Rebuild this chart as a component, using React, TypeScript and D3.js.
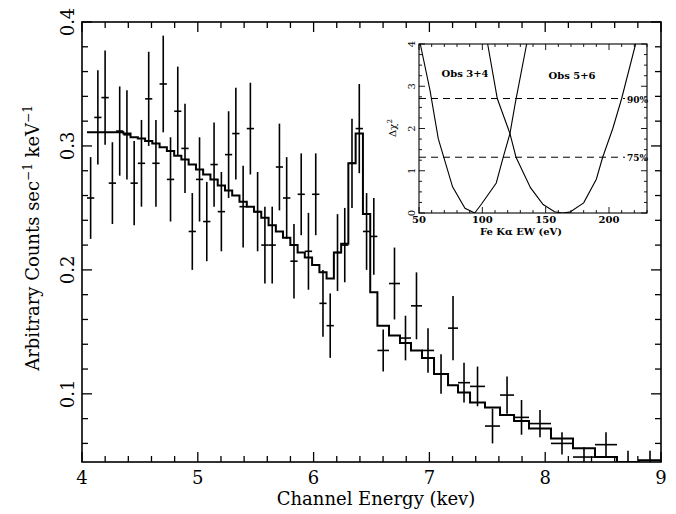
import React, { useEffect, useRef } from 'react';
import * as d3 from 'd3';

// spectrum bins (keV edges), data and model
const binEdges = [
  4.043, 4.106, 4.168, 4.231, 4.294, 4.357, 4.419, 4.482, 4.545, 4.607,
  4.670, 4.733, 4.796, 4.858, 4.921, 4.984, 5.046, 5.109, 5.172, 5.235,
  5.297, 5.360, 5.423, 5.485, 5.548, 5.611, 5.674, 5.736, 5.799, 5.862,
  5.924, 5.987, 6.050, 6.112, 6.175, 6.238, 6.300, 6.363, 6.426, 6.489,
  6.551, 6.651, 6.746, 6.841, 6.936, 7.040, 7.161, 7.247, 7.351, 7.480,
  7.610, 7.731, 7.860, 8.050, 8.240, 8.430, 8.620, 8.810, 9.000,
];
const countRate = [
  0.258, 0.323, 0.339, 0.270, 0.312, 0.309, 0.270, 0.286, 0.338, 0.286,
  0.350, 0.273, 0.328, 0.298, 0.231, 0.273, 0.239, 0.285, 0.247, 0.293,
  0.310, 0.251, 0.314, 0.247, 0.220, 0.220, 0.283, 0.258, 0.207, 0.261,
  0.215, 0.261, 0.173, 0.155, 0.214, 0.220, 0.286, 0.314, 0.231, 0.227,
  0.135, 0.189, 0.145, 0.171, 0.135, 0.116, 0.153, 0.109, 0.106, 0.074,
  0.099, 0.081, 0.076, 0.060, 0.049, 0.059, 0.043, 0.043,
];
const countErr = [
  0.033, 0.038, 0.038, 0.033, 0.036, 0.036, 0.034, 0.035, 0.038, 0.035,
  0.039, 0.034, 0.036, 0.036, 0.031, 0.034, 0.032, 0.034, 0.032, 0.035,
  0.037, 0.033, 0.037, 0.032, 0.031, 0.031, 0.035, 0.033, 0.030, 0.033,
  0.031, 0.033, 0.027, 0.026, 0.031, 0.030, 0.036, 0.036, 0.031, 0.031,
  0.017, 0.029, 0.018, 0.027, 0.018, 0.016, 0.026, 0.016, 0.016, 0.014,
  0.015, 0.014, 0.011, 0.009, 0.008, 0.010, 0.011, 0.011,
];
const modelRate = [
  0.311, 0.311, 0.311, 0.311, 0.311, 0.310, 0.307, 0.306, 0.304, 0.302,
  0.299, 0.296, 0.292, 0.289, 0.285, 0.281, 0.277, 0.273, 0.268, 0.264,
  0.260, 0.255, 0.251, 0.247, 0.242, 0.236, 0.231, 0.226, 0.220, 0.214,
  0.210, 0.204, 0.198, 0.193, 0.214, 0.221, 0.286, 0.310, 0.245, 0.182,
  0.155, 0.147, 0.141, 0.135, 0.129, 0.116, 0.107, 0.101, 0.093, 0.089,
  0.083, 0.078, 0.072, 0.064, 0.056, 0.049, 0.045, 0.0465,
];

// inset: delta chi^2 against Fe K alpha equivalent width
const ewObs34 = [51, 58.7, 65.2, 76.5, 86.3, 94, 99.5, 111, 116.5, 121.8, 126, 135];
const chiObs34 = [4.0, 2.9, 1.76, 0.62, 0.11, 0.0, 0.22, 0.71, 1.32, 1.88, 2.6, 4.0];
const ewObs56 = [104.2, 111.8, 121.8, 126.6, 138, 148, 157, 163, 169, 180, 190, 195, 203, 210, 221];
const chiObs56 = [4.0, 2.71, 1.88, 1.32, 0.6, 0.2, 0.03, 0.0, 0.02, 0.24, 0.8, 1.32, 2.0, 2.71, 4.0];
const confLevels = [2.71, 1.32];
const confLabels = ['90%', '75%'];

const xTicks = [4, 5, 6, 7, 8, 9];
const yTicks = [0.1, 0.2, 0.3, 0.4];
const insetXTicks = [50, 100, 150, 200];
const insetYTicks = [0, 1, 2, 3, 4];

const FONT = '"DejaVu Serif", "Liberation Serif", serif';

const App = () => {
  const ref = useRef<SVGSVGElement>(null);

  useEffect(() => {
    const svg = d3.select(ref.current);
    svg.selectAll('*').remove();

    const L = 82, R = 661, T = 22, B = 462;
    const x = d3.scaleLinear().domain([4, 9]).range([L, R]);
    const y = d3.scaleLinear().domain([0.045, 0.4]).range([B, T]);

    const defs = svg.append('defs');
    defs.append('clipPath').attr('id', 'plotclip')
      .append('rect').attr('x', L).attr('y', T).attr('width', R - L).attr('height', B - T);

    // frame + inward ticks on all four sides
    svg.append('rect').attr('x', L).attr('y', T).attr('width', R - L).attr('height', B - T)
      .attr('fill', 'none').attr('stroke', '#000').attr('stroke-width', 1.6);

    const g = svg.append('g').attr('stroke', '#000').attr('stroke-width', 1.3);
    d3.range(4, 9.001, 0.2).forEach((v) => {
      const len = Math.abs(v - Math.round(v)) < 1e-6 ? 10 : 6;
      g.append('line').attr('x1', x(v)).attr('x2', x(v)).attr('y1', B).attr('y2', B - len);
      g.append('line').attr('x1', x(v)).attr('x2', x(v)).attr('y1', T).attr('y2', T + len);
    });
    d3.range(0.06, 0.4001, 0.02).forEach((v) => {
      const len = Math.abs(v * 10 - Math.round(v * 10)) < 1e-6 ? 10 : 6;
      g.append('line').attr('y1', y(v)).attr('y2', y(v)).attr('x1', L).attr('x2', L + len);
      g.append('line').attr('y1', y(v)).attr('y2', y(v)).attr('x1', R).attr('x2', R - len);
    });

    svg.selectAll('.xt').data(xTicks).enter().append('text')
      .attr('x', (d) => x(d)).attr('y', 484).attr('text-anchor', 'middle')
      .attr('font-family', FONT).attr('font-size', 18).text((d) => String(d));
    svg.selectAll('.yt').data(yTicks).enter().append('text')
      .attr('transform', (d) => `translate(74,${y(d)}) rotate(-90)`)
      .attr('text-anchor', 'middle')
      .attr('font-family', FONT).attr('font-size', 18).text((d) => d.toFixed(1));

    svg.append('text').attr('x', 376).attr('y', 505).attr('text-anchor', 'middle')
      .attr('font-family', FONT).attr('font-size', 18).text('Channel Energy (kev)');

    const yt = svg.append('text').attr('transform', 'translate(39,238) rotate(-90)')
      .attr('text-anchor', 'middle').attr('font-family', FONT).attr('font-size', 18);
    yt.append('tspan').text('Arbitrary Counts sec');
    yt.append('tspan').attr('dy', -7).attr('font-size', 12).text('−1');
    yt.append('tspan').attr('dy', 7).text(' keV');
    yt.append('tspan').attr('dy', -7).attr('font-size', 12).text('−1');

    // model histogram
    const pts: [number, number][] = modelRate.map((m, i) => [binEdges[i], m]);
    pts.push([binEdges[binEdges.length - 1], modelRate[modelRate.length - 1]]);
    const stepLine = d3.line<[number, number]>()
      .x((d) => x(d[0])).y((d) => y(d[1])).curve(d3.curveStepAfter);
    const plot = svg.append('g').attr('clip-path', 'url(#plotclip)');
    plot.append('path').attr('d', stepLine(pts)).attr('fill', 'none')
      .attr('stroke', '#000').attr('stroke-width', 2);

    // data crosses: bin width across, 1 sigma up/down
    const dg = plot.append('g').attr('stroke', '#000').attr('stroke-width', 1.6);
    countRate.forEach((v, i) => {
      const x0 = binEdges[i], x1 = binEdges[i + 1];
      const xc = (x0 + x1) / 2;
      dg.append('line').attr('x1', x(x0)).attr('x2', x(x1)).attr('y1', y(v)).attr('y2', y(v));
      dg.append('line').attr('x1', x(xc)).attr('x2', x(xc))
        .attr('y1', y(v - countErr[i])).attr('y2', y(v + countErr[i]));
    });

    // inset
    const iL = 419, iR = 647, iT = 44, iB = 213;
    const ix = d3.scaleLinear().domain([50, 230]).range([iL, iR]);
    const iy = d3.scaleLinear().domain([0, 4]).range([iB, iT]);
    svg.append('rect').attr('x', iL).attr('y', iT).attr('width', iR - iL).attr('height', iB - iT)
      .attr('fill', '#fff').attr('stroke', '#000').attr('stroke-width', 1.1);
    defs.append('clipPath').attr('id', 'insetclip')
      .append('rect').attr('x', iL).attr('y', iT).attr('width', iR - iL).attr('height', iB - iT);

    const ig = svg.append('g').attr('stroke', '#000').attr('stroke-width', 0.9);
    d3.range(50, 230.01, 10).forEach((v) => {
      const len = v % 50 === 0 ? 6 : 3;
      ig.append('line').attr('x1', ix(v)).attr('x2', ix(v)).attr('y1', iB).attr('y2', iB - len);
      ig.append('line').attr('x1', ix(v)).attr('x2', ix(v)).attr('y1', iT).attr('y2', iT + len);
    });
    d3.range(0, 4.001, 0.25).forEach((v) => {
      const len = Math.abs(v - Math.round(v)) < 1e-6 ? 6 : 3;
      ig.append('line').attr('y1', iy(v)).attr('y2', iy(v)).attr('x1', iL).attr('x2', iL + len);
      ig.append('line').attr('y1', iy(v)).attr('y2', iy(v)).attr('x1', iR).attr('x2', iR - len);
    });

    svg.selectAll('.ixt').data(insetXTicks).enter().append('text')
      .attr('x', (d) => ix(d)).attr('y', 223).attr('text-anchor', 'middle')
      .attr('font-family', FONT).attr('font-size', 10).attr('font-weight', 'bold')
      .text((d) => String(d));
    svg.selectAll('.iyt').data(insetYTicks).enter().append('text')
      .attr('transform', (d) => `translate(415,${iy(d)}) rotate(-90)`)
      .attr('text-anchor', 'middle')
      .attr('font-family', FONT).attr('font-size', 10).text((d) => String(d));
    svg.append('text').attr('x', 521).attr('y', 235).attr('text-anchor', 'middle')
      .attr('font-family', FONT).attr('font-size', 10).attr('font-weight', 'bold')
      .text('Fe Kα EW (eV)');
    const dl = svg.append('text').attr('transform', 'translate(396,128) rotate(-90)')
      .attr('text-anchor', 'middle').attr('font-family', FONT).attr('font-size', 10);
    dl.append('tspan').text('Δχ');
    dl.append('tspan').attr('dy', -4).attr('font-size', 7).text('2');

    const ip = svg.append('g').attr('clip-path', 'url(#insetclip)');
    confLevels.forEach((c, i) => {
      ip.append('line').attr('x1', iL).attr('x2', 625).attr('y1', iy(c)).attr('y2', iy(c))
        .attr('stroke', '#000').attr('stroke-width', 1).attr('stroke-dasharray', '7,5');
      svg.append('text').attr('x', 627).attr('y', iy(c) + 4)
        .attr('font-family', FONT).attr('font-size', 9).attr('font-weight', 'bold')
        .text(confLabels[i]);
    });

    const drawCurve = (ew: number[], chi: number[]) => {
      const line = d3.line<number>().x((_, i) => ix(ew[i])).y((_, i) => iy(chi[i]));
      ip.append('path').attr('d', line(ew)).attr('fill', 'none')
        .attr('stroke', '#000').attr('stroke-width', 1.1);
    };
    drawCurve(ewObs34, chiObs34);
    drawCurve(ewObs56, chiObs56);

    svg.append('text').attr('x', 465).attr('y', 77).attr('text-anchor', 'middle')
      .attr('font-family', FONT).attr('font-size', 10).attr('font-weight', 'bold').text('Obs 3+4');
    svg.append('text').attr('x', 572).attr('y', 79).attr('text-anchor', 'middle')
      .attr('font-family', FONT).attr('font-size', 10).attr('font-weight', 'bold').text('Obs 5+6');
  }, []);

  return (
    <svg ref={ref} width={676} height={514}
      style={{ position: 'absolute', left: 0, top: 0, background: '#fff' }} />
  );
};

export default App;
